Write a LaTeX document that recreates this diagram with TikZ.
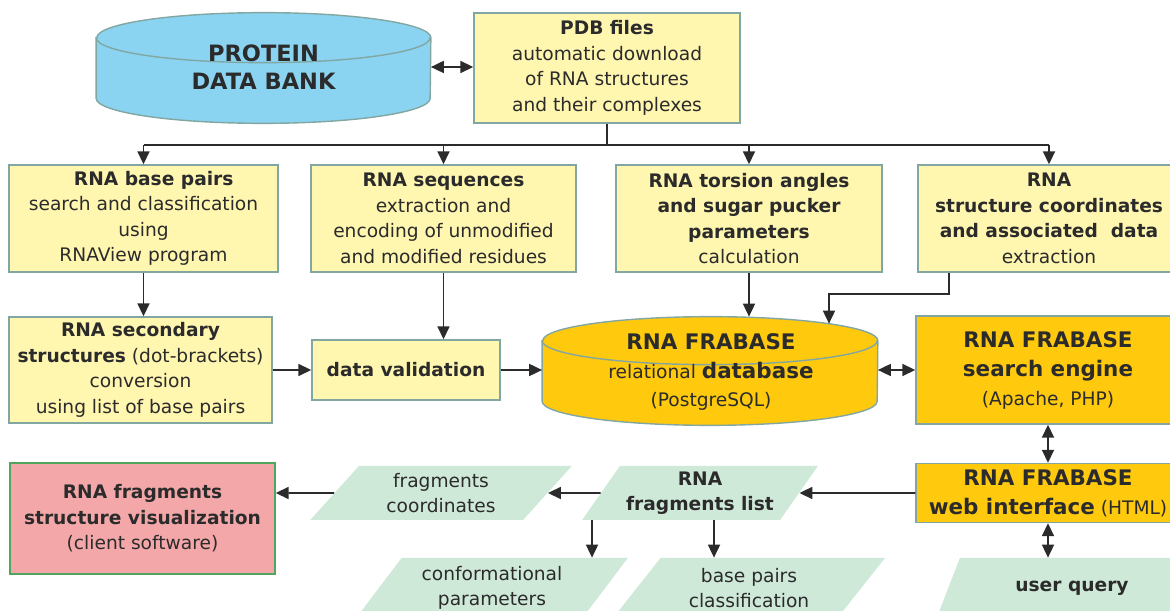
\documentclass[tikz,border=0pt]{standalone}
\usepackage{fontspec}
\setmainfont{DejaVu Sans}
\usetikzlibrary{shapes.geometric,arrows.meta,calc}

\definecolor{paleyel}{HTML}{FFF6B0}
\definecolor{boxline}{HTML}{82A6A2}
\definecolor{dbblue}{HTML}{8AD4F2}
\definecolor{gold}{HTML}{FFC90E}
\definecolor{rose}{HTML}{F4A7A9}
\definecolor{roseline}{HTML}{4FA65C}
\definecolor{mint}{HTML}{CFE9D9}
\definecolor{ink}{HTML}{2B2B2B}

\newcommand{\bighd}[1]{{\fontsize{12.2}{16}\selectfont\bfseries #1}}
% drum around a node: name, fill, x radius, y radius
\newcommand{\drum}[4]{%
  \path[draw=boxline, fill=#2, line width=0.8pt]
    ([yshift=-#4]#1.north west) -- ([yshift=#4]#1.south west)
    arc[start angle=180, end angle=360, x radius=#3, y radius=#4]
    -- ([yshift=-#4]#1.north east)
    arc[start angle=0, end angle=180, x radius=#3, y radius=#4] -- cycle;
  \draw[boxline, line width=0.8pt] ([yshift=-#4]#1.north west)
    arc[start angle=180, end angle=360, x radius=#3, y radius=#4];
}

\begin{document}
\begin{tikzpicture}[font=\fontsize{10.6}{14.5}\selectfont, text=ink, >={Triangle[length=2.6mm, width=2.4mm]}]
	\tikzstyle{box}=[rectangle, draw=boxline, fill=paleyel, line width=0.8pt, align=center, inner sep=2pt];
	\tikzstyle{gbox}=[box, fill=gold, font=\fontsize{10.6}{16.5}\selectfont];
	\tikzstyle{db}=[rectangle, inner sep=0pt];
	\tikzstyle{para}=[trapezium, trapezium left angle=51, trapezium right angle=129, trapezium stretches=true, fill=mint, align=center, inner sep=0pt];
	\tikzstyle{arr}=[draw=ink, line width=1pt, ->];
	\tikzstyle{dbl}=[draw=ink, line width=1pt, <->];

   \useasboundingbox (0,0) rectangle (23.4,-12.22);
   \clip (0,0) rectangle (23.4,-12.22);

   \node[db, minimum width=6.68cm, minimum height=2.2cm] (pdb) at (5.27,-1.36) {};
   \drum{pdb}{dbblue}{3.34cm}{0.5cm}
   \node[align=center, font=\fontsize{12.8}{16}\selectfont\bfseries] (pdbt) at (5.27,-1.34) {PROTEIN\\DATA BANK};
   \node[box, minimum width=5.32cm, minimum height=2.2cm] (pdbf) at (12.14,-1.36) {\textbf{PDB files}\\automatic download\\of RNA structures\\and their complexes};

   \node[box, minimum width=5.38cm, minimum height=2.14cm] (bp) at (2.87,-4.37) {\hspace*{1.1em}\textbf{RNA base pairs}\\search and classification\\using\\RNAView program};
   \node[box, minimum width=5.3cm, minimum height=2.14cm] (seq) at (8.87,-4.37) {\textbf{RNA sequences}\\extraction and\\encoding of unmodified\\and modified residues};
   \node[box, minimum width=5.32cm, minimum height=2.14cm] (tor) at (14.98,-4.37) {\textbf{RNA torsion angles}\\\textbf{and sugar pucker}\\\textbf{parameters}\\calculation};
   \node[box, minimum width=5.24cm, minimum height=2.14cm] (crd) at (20.98,-4.37) {\textbf{RNA}\\\textbf{structure coordinates}\\\textbf{and associated\ \ data}\\extraction};

   \node[box, minimum width=5.26cm, minimum height=2.12cm] (sec) at (2.81,-7.4) {\textbf{RNA secondary}\\\textbf{structures} (dot-brackets)\\conversion\\using list of base pairs};
   \node[box, minimum width=3.76cm, minimum height=1.2cm] (val) at (8.12,-7.4) {\textbf{data validation}};
   \node[db, minimum width=6.7cm, minimum height=2.16cm] (frab) at (14.2,-7.42) {};
   \drum{frab}{gold}{3.35cm}{0.48cm}
   \node[align=center, font=\fontsize{10.6}{16}\selectfont] (frabt) at (14.22,-7.44) {\bighd{RNA FRABASE}\\relational \bighd{database}\\(PostgreSQL)};
   \node[gbox, minimum width=5.28cm, minimum height=2.16cm] (eng) at (20.96,-7.4) {\bighd{RNA FRABASE}\\\bighd{search engine}\\(Apache, PHP)};

   \node[gbox, minimum width=5.28cm, minimum height=1.18cm] (web) at (20.96,-9.86) {\bighd{RNA FRABASE}\\\bighd{web interface} (HTML)};
   \node[box, fill=rose, draw=roseline, minimum width=5.3cm, minimum height=2.22cm] (vis) at (2.85,-10.37) {\textbf{RNA fragments}\\\textbf{structure visualization}\\(client software)};
   \node[para, minimum width=5.24cm, minimum height=1.08cm] (fc) at (8.82,-9.86) {fragments\\coordinates};
   \node[para, minimum width=4.72cm, minimum height=1.08cm] (fl) at (14.0,-9.86) {\textbf{RNA}\\\textbf{fragments list}};
   \node[para, minimum width=5.44cm, minimum height=1.2cm] (conf) at (9.84,-11.76) {conformational\\parameters};
   \node[para, minimum width=5.44cm, minimum height=1.2cm] (bpc) at (14.98,-11.76) {base pairs\\classification};
   \node[para, minimum width=5.44cm, minimum height=1.2cm] (uq) at (21.44,-11.76) {\textbf{user query}};

   \coordinate (bus) at (0,-2.9);
   \draw[draw=ink, line width=1pt] (pdbf.south) -- (pdbf.south |- bus);
   \draw[draw=ink, line width=1pt] (bp.north |- bus) -- (crd.north |- bus);
   \foreach \n in {bp,seq,tor,crd}
      \draw[arr] (\n.north |- bus) -- (\n.north);
   \draw[dbl] (pdb.east |- pdbt) -- (pdbt -| pdbf.west);
   \draw[arr] (bp.south) -- (bp.south |- sec.north);
   \draw[arr] (seq.south) -- (seq.south |- val.north);
   \draw[arr] (sec) -- (val);
   \draw[arr] (val) -- (val -| frab.west);
   \draw[arr] (tor.south) -- (tor.south |- frab.north);
   \draw[arr] ([xshift=-2cm]crd.south) -- ++(0,-0.42) -| ([xshift=2.38cm, yshift=-0.14cm]frab.north);
   \draw[dbl] (frab.east |- eng) -- (eng);
   \draw[dbl] (eng) -- (web);
   \draw[arr] (web) -- (fl);
   \draw[arr] (fl) -- (fc);
   \draw[arr] (fc) -- (fc -| vis.east);
   \draw[arr] ([xshift=-2.16cm]fl.south) -- ([xshift=-2.16cm]fl.south |- conf.north);
   \draw[arr] ([xshift=0.28cm]fl.south) -- ([xshift=0.28cm]fl.south |- bpc.north);
   \draw[dbl] (web) -- (web |- uq.north);

\end{tikzpicture}
\end{document}
